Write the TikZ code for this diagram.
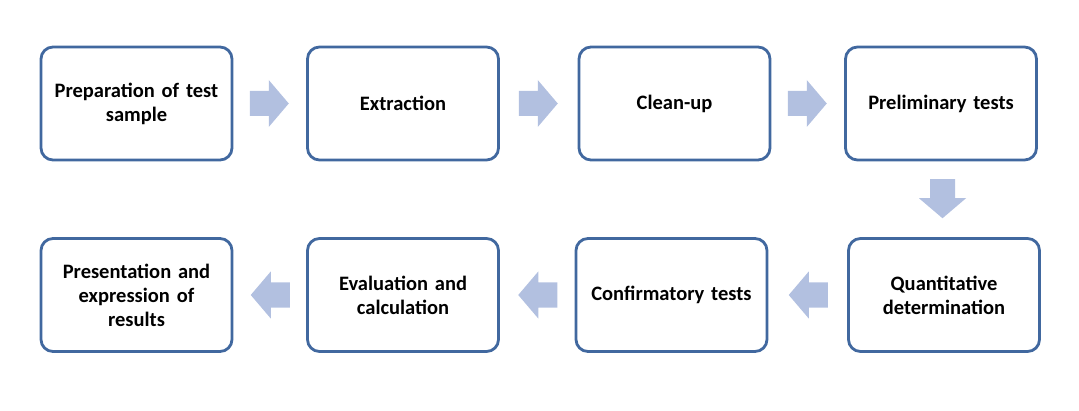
\documentclass[tikz,border=0pt]{standalone}
\usepackage{fontspec}
\setmainfont{Carlito}
\definecolor{boxline}{HTML}{41689F}
\definecolor{arrowfill}{HTML}{B2C0E0}
\begin{document}
\begin{tikzpicture}[x=1pt,y=1pt,
  stepbox/.style={draw=boxline, line width=2.8pt, rounded corners=12pt, fill=white,
    minimum width=191pt, minimum height=113pt, align=center, text width=185pt,
    font=\fontsize{20.5}{24}\selectfont\bfseries, inner sep=0pt},
  barrow/.pic={\fill[arrowfill] (-20,-12.5) -- (-1,-12.5) -- (-1,-23.5) -- (19,0) -- (-1,23.5) -- (-1,12.5) -- (-20,12.5) -- cycle;}
]
\useasboundingbox (0,0) rectangle (1079,410);
\node[stepbox] (b1) at (136.5,306.5) {Preparation of test\\sample};
\node[stepbox] (b2) at (403,306.5) {Extraction};
\node[stepbox] (b3) at (674.5,306.5) {Clean-up};
\node[stepbox] (b4) at (941,306.5) {Preliminary tests};
\node[stepbox] (b8) at (944,115) {Quantitative\\determination};
\node[stepbox] (b7) at (671.5,115) {Confirmatory tests};
\node[stepbox] (b6) at (403,115) {Evaluation and\\calculation};
\node[stepbox] (b5) at (136.5,115) {Presentation and\\expression of\\results};
\path (b1.east) -- (b2.west) pic[pos=0.5] {barrow};
\path (b2.east) -- (b3.west) pic[pos=0.5] {barrow};
\path (b3.east) -- (b4.west) pic[pos=0.5] {barrow};
\path (b4.south) -- (b8.north) pic[pos=0.5,rotate=-90] {barrow};
\path (b8.west) -- (b7.east) pic[pos=0.5,rotate=180] {barrow};
\path (b7.west) -- (b6.east) pic[pos=0.5,rotate=180] {barrow};
\path (b6.west) -- (b5.east) pic[pos=0.5,rotate=180] {barrow};
\end{tikzpicture}
\end{document}
